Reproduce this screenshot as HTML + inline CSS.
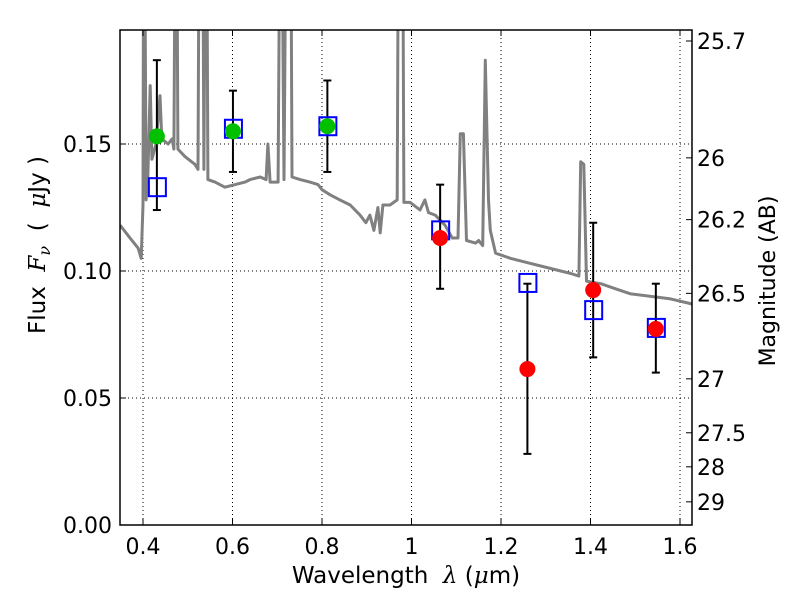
<!DOCTYPE html>
<html><head><meta charset="utf-8"><style>
body{margin:0;background:#fff;}
svg text{font-family:"DejaVu Sans","Liberation Sans",sans-serif;fill:#000;white-space:pre;}
</style></head><body>
<svg id="chart" width="800" height="600" viewBox="0 0 800 600" xmlns="http://www.w3.org/2000/svg" xml:space="preserve">
<defs><clipPath id="clip"><rect x="120" y="30" width="572" height="495"/></clipPath></defs>
<rect x="0" y="0" width="800" height="600" fill="#fff"/>
<g id="grid"></g>
<g id="spec" clip-path="url(#clip)"></g>
<g id="marks"></g>
<g id="axes"></g>
<text x="406" y="583" font-size="23" text-anchor="middle">Wavelength  <tspan font-style="italic" font-family="DejaVu Serif">λ</tspan> (<tspan font-style="italic" font-family="DejaVu Serif">μ</tspan>m)</text>
<text transform="translate(45,245) rotate(-90)" font-size="23" text-anchor="middle">Flux  <tspan font-style="italic" font-family="DejaVu Serif">F<tspan font-size="16" dy="5">ν</tspan></tspan><tspan dy="-5">  (  </tspan><tspan font-style="italic" font-family="DejaVu Serif">μ</tspan>Jy )</text>
<text transform="translate(775,281) rotate(-90)" font-size="22" text-anchor="middle">Magnitude (AB)</text>
</svg>
<script>
const specLam=[0.349,0.371,0.389,0.396,0.400,0.402,0.407,0.411,0.416,0.420,0.429,0.438,0.442,0.456,0.465,0.469,0.474,0.478,0.494,0.516,0.523,0.527,0.532,0.536,0.541,0.545,0.561,0.583,0.606,0.628,0.639,0.662,0.675,0.679,0.684,0.702,0.708,0.715,0.722,0.729,0.733,0.751,0.773,0.791,0.800,0.818,0.840,0.863,0.885,0.898,0.907,0.916,0.925,0.930,0.936,0.952,0.968,0.972,0.979,0.983,0.997,1.019,1.030,1.038,1.053,1.075,1.091,1.104,1.109,1.116,1.123,1.143,1.150,1.159,1.165,1.172,1.176,1.188,1.221,1.266,1.311,1.356,1.374,1.378,1.385,1.391,1.423,1.456,1.490,1.535,1.579,1.627];
const specFlux=[0.118,0.113,0.109,0.105,0.126,0.3,0.128,0.138,0.173,0.144,0.150,0.169,0.152,0.150,0.152,0.148,0.3,0.148,0.145,0.142,0.140,0.3,0.3,0.140,0.3,0.136,0.135,0.133,0.134,0.135,0.136,0.137,0.136,0.150,0.135,0.135,0.3,0.136,0.3,0.3,0.137,0.136,0.135,0.134,0.132,0.130,0.128,0.126,0.122,0.119,0.122,0.116,0.125,0.115,0.126,0.126,0.128,0.3,0.3,0.127,0.127,0.124,0.128,0.123,0.122,0.118,0.113,0.113,0.154,0.154,0.112,0.111,0.112,0.110,0.183,0.128,0.116,0.107,0.105,0.103,0.101,0.099,0.098,0.143,0.142,0.096,0.095,0.093,0.091,0.090,0.089,0.087];
const greenLam=[0.431,0.601,0.812];
const greenFlux=[0.153,0.155,0.157];
const greenHi=[0.183,0.171,0.175];
const greenLo=[0.124,0.139,0.139];
const redLam=[1.064,1.259,1.406,1.546];
const redFlux=[0.113,0.0614,0.0925,0.0772];
const redHi=[0.134,0.095,0.119,0.095];
const redLo=[0.093,0.028,0.066,0.060];
const modelLam=[0.431,0.601,0.812,1.064,1.259,1.406,1.546];
const modelFlux=[0.133,0.156,0.157,0.116,0.0953,0.0846,0.0776];
const xTicks=[0.4,0.6,0.8,1.0,1.2,1.4,1.6];
const xTickLabels=["0.4","0.6","0.8","1","1.2","1.4","1.6"];
const yTicks=[0,0.05,0.10,0.15];
const yTickLabels=["0.00","0.05","0.10","0.15"];
const magTicks=[25.7,26,26.2,26.5,27,27.5,28,29];
const magLabels=["25.7","26","26.2","26.5","27","27.5","28","29"];

const L=120,R=692,T=30,B=525;
const X=v=>143+(v-0.4)*447.5;
const Y=v=>525-v*2540;
const NS="http://www.w3.org/2000/svg";
function mk(p,tag,at){const e=document.createElementNS(NS,tag);for(const k in at)e.setAttribute(k,at[k]);p.appendChild(e);return e;}
const grid=document.getElementById('grid'),spec=document.getElementById('spec'),marks=document.getElementById('marks'),axes=document.getElementById('axes');
xTicks.forEach((t,i)=>{
 const g=mk(grid,'line',{x1:X(t),x2:X(t),y1:T,y2:B,stroke:'#000','stroke-width':1,'stroke-dasharray':'1,3'});
 
 
 mk(axes,'line',{x1:X(t),x2:X(t),y1:B,y2:B-6,stroke:'#000'});
 mk(axes,'line',{x1:X(t),x2:X(t),y1:T,y2:T+6,stroke:'#000'});
 const tx=mk(axes,'text',{x:X(t),y:554,'font-size':22,'text-anchor':'middle'});tx.textContent=xTickLabels[i];
 
 
});
yTicks.forEach((t,i)=>{
 const g=mk(grid,'line',{x1:L,x2:R,y1:Y(t),y2:Y(t),stroke:'#000','stroke-width':1,'stroke-dasharray':'1,3'});
 
 
 mk(axes,'line',{x1:L,x2:L+6,y1:Y(t),y2:Y(t),stroke:'#000'});
 const tx=mk(axes,'text',{x:112,y:Y(t)+8,'font-size':22,'text-anchor':'end'});tx.textContent=yTickLabels[i];
 
 
});
magTicks.forEach((m,i)=>{
 const y=Y(Math.pow(10,(23.9-m)/2.5));
 mk(axes,'line',{x1:R-6,x2:R,y1:y,y2:y,stroke:'#000'});
 const tx=mk(axes,'text',{x:697,y:y+8,'font-size':22});tx.textContent=magLabels[i];
 
 
});
const pts=specLam.map((l,i)=>X(l).toFixed(1)+','+Y(specFlux[i]).toFixed(1)).join(' ');
const pl=mk(spec,'polyline',{points:pts,fill:'none',stroke:'#808080','stroke-width':3,'stroke-linejoin':'round'});


function err(lam,hi,lo){const x=X(lam);
 mk(marks,'line',{x1:x,x2:x,y1:Y(hi),y2:Y(lo),stroke:'#000','stroke-width':2});
 mk(marks,'line',{x1:x-4,x2:x+4,y1:Y(hi),y2:Y(hi),stroke:'#000','stroke-width':2});
 mk(marks,'line',{x1:x-4,x2:x+4,y1:Y(lo),y2:Y(lo),stroke:'#000','stroke-width':2});}
greenLam.forEach((l,i)=>err(l,greenHi[i],greenLo[i]));
redLam.forEach((l,i)=>err(l,redHi[i],redLo[i]));
modelLam.forEach((l,i)=>{
 const s=mk(marks,'rect',{x:X(l)-8,y:Y(modelFlux[i])-9,width:17,height:18,fill:'none',stroke:'#0000ff','stroke-width':2});
 
 
});
greenLam.forEach((l,i)=>{
 const c=mk(marks,'circle',{cx:X(l),cy:Y(greenFlux[i]),r:8,fill:'#00c000'});
 
 
});
redLam.forEach((l,i)=>{
 const c=mk(marks,'circle',{cx:X(l),cy:Y(redFlux[i]),r:8,fill:'#ff0000'});
 
 
});
const f=mk(axes,'rect',{x:L,y:T,width:R-L,height:B-T,fill:'none',stroke:'#000','stroke-width':1.5});


</script>
</body></html>
